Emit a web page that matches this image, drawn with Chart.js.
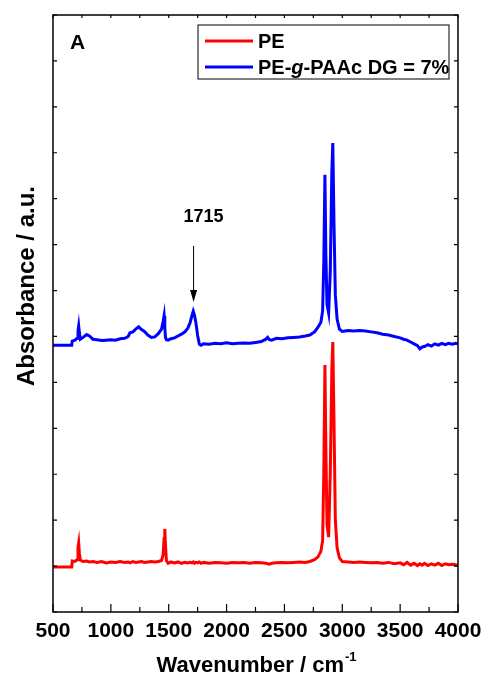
<!DOCTYPE html>
<html>
<head>
<meta charset="utf-8">
<title>FTIR spectra</title>
<script src="https://cdn.jsdelivr.net/npm/chart.js@4.4.1/dist/chart.umd.min.js"></script>
<style>
  html, body { margin: 0; padding: 0; background: #fff; }
  canvas { display: block; }
</style>
</head>
<body>
<canvas id="ftirChart" width="483" height="678"></canvas>
<script>
// wavenumber grid (cm-1) shared by both spectra
const wavenumbers = [
    500, 662, 666, 690, 708, 716, 722, 728, 736, 760,
    790, 815, 845, 880, 920, 960, 1000, 1040, 1080, 1120,
    1150, 1165, 1190, 1215, 1240, 1265, 1290, 1320, 1350, 1380,
    1410, 1438, 1452, 1460, 1466, 1472, 1480, 1495, 1520, 1550,
    1580, 1610, 1640, 1665, 1685, 1700, 1712, 1722, 1735, 1750,
    1765, 1780, 1800, 1850, 1900, 1950, 2000, 2050, 2100, 2150,
    2200, 2250, 2300, 2340, 2355, 2370, 2390, 2430, 2480, 2530,
    2580, 2630, 2680, 2720, 2760, 2790, 2815, 2830, 2840, 2850,
    2858, 2868, 2882, 2896, 2910, 2918, 2928, 2940, 2955, 2975,
    3000, 3050, 3100, 3150, 3200, 3250, 3300, 3350, 3400, 3450,
    3500, 3530, 3560, 3590, 3620, 3650, 3670, 3690, 3710, 3740,
    3770, 3800, 3830, 3860, 3890, 3920, 3950, 3980, 4000
];

// PE film (offset baseline around 1)
const absorbancePE = [
    0.98, 0.98, 1.11, 1.10, 1.14, 1.40, 1.50, 1.28, 1.13, 1.10,
    1.11, 1.09, 1.10, 1.08, 1.10, 1.07, 1.09, 1.08, 1.10, 1.08,
    1.09, 1.07, 1.10, 1.08, 1.09, 1.10, 1.08, 1.09, 1.10, 1.09,
    1.10, 1.12, 1.25, 1.60, 1.81, 1.45, 1.12, 1.06, 1.09, 1.07,
    1.09, 1.06, 1.08, 1.07, 1.08, 1.07, 1.09, 1.06, 1.08, 1.07,
    1.09, 1.06, 1.08, 1.06, 1.08, 1.07, 1.06, 1.08, 1.07, 1.08,
    1.06, 1.08, 1.07, 1.06, 1.05, 1.04, 1.06, 1.07, 1.08, 1.07,
    1.08, 1.09, 1.08, 1.10, 1.14, 1.20, 1.32, 1.55, 3.00, 5.38,
    3.60, 1.90, 1.63, 3.00, 5.30, 5.88, 4.20, 2.00, 1.40, 1.18,
    1.10, 1.09, 1.08, 1.09, 1.08, 1.07, 1.08, 1.06, 1.08, 1.05,
    1.07, 1.03, 1.08, 1.02, 1.06, 1.01, 1.05, 1.02, 1.06, 1.01,
    1.05, 1.02, 1.06, 1.01, 1.05, 1.03, 1.04, 1.03, 1.02
];

// PE-g-PAAc, DG = 7% (offset baseline around 5.9)
const absorbancePAAc = [
    5.81, 5.81, 5.90, 5.92, 5.96, 6.12, 6.23, 6.08, 5.94, 5.98,
    6.04, 6.01, 5.94, 5.93, 5.91, 5.92, 5.93, 5.92, 5.95, 5.96,
    6.00, 6.08, 6.10, 6.16, 6.21, 6.15, 6.11, 6.03, 5.98, 5.99,
    6.06, 6.16, 6.33, 6.45, 6.20, 5.98, 5.93, 5.92, 5.95, 5.97,
    6.01, 6.05, 6.10, 6.18, 6.30, 6.45, 6.55, 6.47, 6.30, 6.02,
    5.83, 5.81, 5.84, 5.83, 5.85, 5.84, 5.86, 5.84, 5.85, 5.86,
    5.85, 5.87, 5.89, 5.94, 5.98, 5.93, 5.92, 5.96, 5.95, 5.97,
    5.98, 5.99, 6.01, 6.03, 6.10, 6.20, 6.31, 6.55, 7.60, 9.52,
    7.80, 6.70, 6.51, 7.40, 9.60, 10.21, 8.50, 6.90, 6.38, 6.16,
    6.11, 6.13, 6.12, 6.13, 6.12, 6.10, 6.08, 6.05, 6.03, 6.00,
    5.97, 5.94, 5.92, 5.88, 5.84, 5.80, 5.73, 5.77, 5.78, 5.82,
    5.79, 5.84, 5.81, 5.85, 5.82, 5.85, 5.83, 5.85, 5.84
];

const seriesLabels = ['PE', 'PE-g-PAAc DG = 7%'];
const seriesColors = ['#ff0000', '#0000ff'];
const peakMark = 1715;

const FONT = "'Liberation Sans', Arial, Helvetica, sans-serif";

function toPoints(ys) {
    return wavenumbers.map((w, i) => ({ x: w, y: ys[i] }));
}

// draw the label with the "g" in italics
function drawLegendText(ctx, text, x, y) {
    const parts = text.split('-g-');
    ctx.font = 'bold 20px ' + FONT;
    if (parts.length === 1) {
        ctx.fillText(text, x, y);
        return;
    }
    ctx.fillText(parts[0] + '-', x, y);
    x += ctx.measureText(parts[0] + '-').width;
    ctx.font = 'italic bold 20px ' + FONT;
    ctx.fillText('g', x, y);
    x += ctx.measureText('g').width;
    ctx.font = 'bold 20px ' + FONT;
    ctx.fillText('-' + parts[1], x, y);
}

const frameAndText = {
    id: 'frameAndText',
    afterDraw(chart) {
        const { ctx, chartArea: a, scales: { x, y } } = chart;
        ctx.save();

        // box and inward ticks
        ctx.strokeStyle = '#000';
        ctx.lineWidth = 1.5;
        ctx.strokeRect(a.left, a.top, a.right - a.left, a.bottom - a.top);
        ctx.lineWidth = 1.2;
        ctx.beginPath();
        for (let v = x.min; v <= x.max; v += 250) {
            const px = x.getPixelForValue(v);
            const major = (v - x.min) % 500 === 0;
            ctx.moveTo(px, a.bottom);
            ctx.lineTo(px, a.bottom - (major ? 8 : 5));
            ctx.moveTo(px, a.top);
            ctx.lineTo(px, a.top + 3);
        }
        for (let v = y.min; v <= y.max; v += 1) {
            const py = y.getPixelForValue(v);
            ctx.moveTo(a.left, py);
            ctx.lineTo(a.left + 4, py);
            ctx.moveTo(a.right, py);
            ctx.lineTo(a.right - 4, py);
        }
        ctx.stroke();

        ctx.fillStyle = '#000';
        ctx.textBaseline = 'alphabetic';

        // axis titles
        ctx.save();
        ctx.translate(34, 286);
        ctx.rotate(-Math.PI / 2);
        ctx.textAlign = 'center';
        ctx.font = 'bold 24px ' + FONT;
        ctx.fillText('Absorbance / a.u.', 0, 0);
        ctx.restore();

        ctx.font = 'bold 22px ' + FONT;
        const main = 'Wavenumber / cm';
        const mainW = ctx.measureText(main).width;
        ctx.font = 'bold 13px ' + FONT;
        const supW = ctx.measureText('-1').width;
        let tx = 256 - (mainW + supW) / 2;
        ctx.textAlign = 'left';
        ctx.font = 'bold 22px ' + FONT;
        ctx.fillText(main, tx, 672);
        ctx.font = 'bold 13px ' + FONT;
        ctx.fillText('-1', tx + mainW + 1, 661);

        // panel letter
        ctx.font = 'bold 21px ' + FONT;
        ctx.fillText('A', a.left + 17, a.top + 34);

        // 1715 band marker
        const ax = x.getPixelForValue(peakMark);
        const aTop = y.getPixelForValue(7.97);
        const aTip = y.getPixelForValue(6.75);
        ctx.lineWidth = 1;
        ctx.beginPath();
        ctx.moveTo(ax, aTop);
        ctx.lineTo(ax, aTip - 10);
        ctx.stroke();
        ctx.beginPath();
        ctx.moveTo(ax, aTip);
        ctx.lineTo(ax - 3.5, aTip - 12);
        ctx.lineTo(ax + 3.5, aTip - 12);
        ctx.closePath();
        ctx.fill();
        ctx.textAlign = 'center';
        ctx.textBaseline = 'middle';
        ctx.font = 'bold 18px ' + FONT;
        ctx.fillText(String(peakMark), ax + 10, 217);

        // legend
        const lx = a.right - 260, ly = a.top + 10, lw = 251, lh = 54;
        ctx.lineWidth = 1;
        ctx.strokeRect(lx, ly, lw, lh);
        ctx.textAlign = 'left';
        ctx.textBaseline = 'middle';
        seriesLabels.forEach((label, i) => {
            const rowY = ly + 16 + i * 26;
            ctx.strokeStyle = seriesColors[i];
            ctx.lineWidth = 3;
            ctx.beginPath();
            ctx.moveTo(lx + 7, rowY);
            ctx.lineTo(lx + 55, rowY);
            ctx.stroke();
            ctx.fillStyle = '#000';
            drawLegendText(ctx, label, lx + 60, rowY + 1);
        });

        ctx.restore();
    }
};

new Chart(document.getElementById('ftirChart').getContext('2d'), {
    type: 'line',
    data: {
        datasets: [
            {
                label: seriesLabels[0],
                data: toPoints(absorbancePE),
                borderColor: seriesColors[0],
                borderWidth: 3,
                pointRadius: 0,
                tension: 0
            },
            {
                label: seriesLabels[1],
                data: toPoints(absorbancePAAc),
                borderColor: seriesColors[1],
                borderWidth: 3,
                pointRadius: 0,
                tension: 0
            }
        ]
    },
    options: {
        responsive: false,
        animation: false,
        devicePixelRatio: 1,
        layout: { padding: { top: 15, right: 25, left: 0, bottom: 0 } },
        plugins: {
            legend: { display: false },
            tooltip: { enabled: false }
        },
        scales: {
            x: {
                type: 'linear',
                min: 500,
                max: 4000,
                grid: { display: false, drawTicks: false },
                border: { display: false },
                ticks: {
                    stepSize: 500,
                    padding: 7,
                    autoSkip: false,
                    maxRotation: 0,
                    minRotation: 0,
                    color: '#000',
                    font: { family: FONT, size: 21, weight: 'bold' },
                    callback: (value) => String(value)
                },
                afterFit: (scale) => {
                    scale.height = 66;
                    // end labels may overhang the plot box
                    scale.paddingLeft = 0;
                    scale.paddingRight = 0;
                }
            },
            y: {
                min: 0,
                max: 13,
                grid: { display: false, drawTicks: false },
                border: { display: false },
                ticks: { display: false, stepSize: 1 },
                afterFit: (scale) => { scale.width = 53; }
            }
        }
    },
    plugins: [frameAndText]
});
</script>
</body>
</html>
